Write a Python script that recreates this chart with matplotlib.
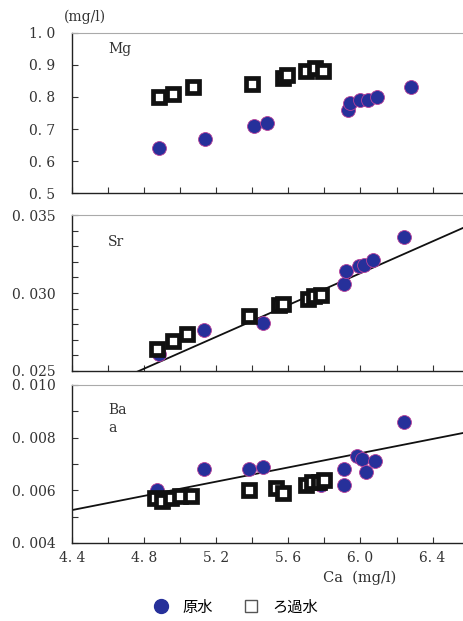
import matplotlib
matplotlib.use("Agg")
import matplotlib.pyplot as plt
from matplotlib.lines import Line2D
import numpy as np

plt.rcParams['font.family'] = ['DejaVu Serif', 'Noto Sans CJK JP']

# ---- data ----
mg_raw_ca = [4.88, 5.14, 5.41, 5.48, 5.93, 5.94, 6.00, 6.04, 6.09, 6.28]
mg_raw = [0.64, 0.67, 0.71, 0.72, 0.76, 0.78, 0.79, 0.79, 0.80, 0.83]
mg_filt_ca = [4.88, 4.96, 5.07, 5.40, 5.57, 5.59, 5.70, 5.75, 5.79]
mg_filt = [0.80, 0.81, 0.83, 0.84, 0.86, 0.87, 0.88, 0.89, 0.88]

sr_raw_ca = [4.88, 5.13, 5.46, 5.91, 5.92, 5.99, 6.02, 6.07, 6.24]
sr_raw = [0.0261, 0.0276, 0.0281, 0.0306, 0.0314, 0.0317, 0.0318, 0.0321, 0.0336]
sr_filt_ca = [4.87, 4.96, 5.04, 5.38, 5.55, 5.57, 5.71, 5.74, 5.78]
sr_filt = [0.0264, 0.0269, 0.0274, 0.0285, 0.0292, 0.0293, 0.0296, 0.0298, 0.0299]
sr_fit = (0.0051, 0.00067)  # slope, intercept

ba_raw_ca = [4.87, 5.13, 5.38, 5.46, 5.78, 5.91, 5.91, 5.98, 6.01, 6.03, 6.08, 6.24]
ba_raw = [0.0060, 0.0068, 0.0068, 0.0069, 0.0062, 0.0068, 0.0062, 0.0073, 0.0072, 0.0067, 0.0071, 0.0086]
ba_filt_ca = [4.86, 4.90, 4.95, 5.00, 5.06, 5.38, 5.53, 5.57, 5.70, 5.73, 5.77, 5.80]
ba_filt = [0.0057, 0.0056, 0.0057, 0.0058, 0.0058, 0.0060, 0.0061, 0.0059, 0.0062, 0.0063, 0.0063, 0.0064]
ba_fit = (0.00135, -0.00069)

mg_ticks = [0.5, 0.6, 0.7, 0.8, 0.9, 1.0]
mg_labels = ['0. 5', '0. 6', '0. 7', '0. 8', '0. 9', '1. 0']
sr_ticks = [0.025, 0.030, 0.035]
sr_labels = ['0. 025', '0. 030', '0. 035']
ba_ticks = [0.004, 0.006, 0.008, 0.010]
ba_labels = ['0. 004', '0. 006', '0. 008', '0. 010']
x_ticks = [4.4, 4.8, 5.2, 5.6, 6.0, 6.4]
x_labels = ['4. 4', '4. 8', '5. 2', '5. 6', '6. 0', '6. 4']

W, H = 464, 621
fig = plt.figure(figsize=(W / 100, H / 100), dpi=100)

def frac(top, bottom):
    return [72 / W, 1 - bottom / H, (W - 72) / W + 0.01, (bottom - top) / H]

ax_mg = fig.add_axes(frac(33, 193))
ax_sr = fig.add_axes(frac(215, 371))
ax_ba = fig.add_axes(frac(385, 543))

circ_kw = dict(marker='o', ls='none', ms=10, mfc='#26309a', mec='#b8409a', mew=0.6, zorder=3)
sq_kw = dict(marker='s', ls='none', ms=8, mfc='white', mec='#111111', mew=3.4, zorder=4)

xlim = (4.4, 6.6)

def style(ax, ticks, labels, ylim, minor=None):
    ax.set_xlim(*xlim)
    ax.set_ylim(*ylim)
    ax.set_yticks(ticks)
    ax.set_yticklabels(labels, fontsize=10, color='#333333')
    if minor is not None:
        ax.set_yticks(minor, minor=True)
    ax.set_xticks(np.arange(4.4, 6.61, 0.2))
    ax.set_xticklabels([])
    ax.tick_params(axis='both', which='both', direction='in', length=4, width=0.8, color='#333333')
    ax.tick_params(axis='x', which='both', top=False)
    ax.tick_params(axis='y', which='both', right=False, pad=12)
    for s in ['left', 'bottom']:
        ax.spines[s].set_color('#222222')
        ax.spines[s].set_linewidth(1.0)
    ax.spines['top'].set_color('#aaaaaa')
    ax.spines['top'].set_linewidth(0.8)
    ax.spines['right'].set_visible(False)

# Mg
ax_mg.plot(mg_raw_ca, mg_raw, **circ_kw)
ax_mg.plot(mg_filt_ca, mg_filt, **sq_kw)
style(ax_mg, mg_ticks, mg_labels, (0.5, 1.0))
ax_mg.text(4.6, 0.95, 'Mg', fontsize=10, va='center', color='#333333')

# Sr
ax_sr.plot(sr_raw_ca, sr_raw, **circ_kw)
ax_sr.plot(sr_filt_ca, sr_filt, **sq_kw)
xl = np.array(xlim)
ax_sr.plot(xl, sr_fit[0] * xl + sr_fit[1], color='#111111', lw=1.3, zorder=2)
style(ax_sr, sr_ticks, sr_labels, (0.025, 0.035), minor=np.arange(0.025, 0.0351, 0.001))
ax_sr.text(4.6, 0.0333, 'Sr', fontsize=10, va='center', color='#333333')

# Ba
ax_ba.plot(ba_raw_ca, ba_raw, **circ_kw)
ax_ba.plot(ba_filt_ca, ba_filt, **sq_kw)
ax_ba.plot(xl, ba_fit[0] * xl + ba_fit[1], color='#111111', lw=1.3, zorder=2)
style(ax_ba, ba_ticks, ba_labels, (0.004, 0.010), minor=np.arange(0.004, 0.0101, 0.001))
ax_ba.set_xticks(x_ticks)
ax_ba.set_xticks(np.arange(4.4, 6.61, 0.2), minor=True)
ax_ba.set_xticklabels(x_labels, fontsize=10, color='#333333')
ax_ba.tick_params(axis='x', which='both', pad=6)
ax_ba.text(4.6, 0.0087, 'Ba\na', fontsize=10, va='center', color='#333333', linespacing=1.4)

fig.text(360 / W, 1 - 578 / H, 'Ca  (mg/l)', fontsize=10.5, ha='center', va='center', color='#333333')
fig.text(85 / W, 1 - 17 / H, '(mg/l)', fontsize=10, ha='center', va='center', color='#333333')

handles = [
    Line2D([], [], marker='o', ls='none', ms=10, mfc='#26309a', mec='#26309a', label='原水'),
    Line2D([], [], marker='s', ls='none', ms=9, mfc='white', mec='#555555', mew=1.0, label='ろ過水'),
]
fig.legend(handles=handles, loc='center', bbox_to_anchor=(236 / W, 1 - 607 / H), ncol=2,
           frameon=False, prop={'family': ['Noto Sans CJK JP'], 'size': 11},
           handletextpad=0.9, columnspacing=2.0, handlelength=1.0)

fig.savefig('out.png', dpi=100)
